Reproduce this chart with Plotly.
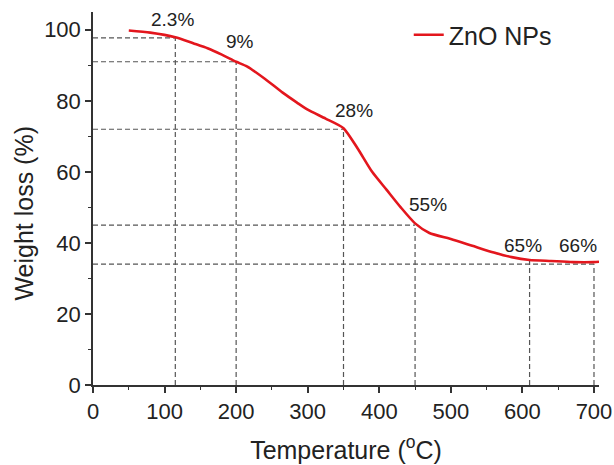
import plotly.graph_objects as go

# TGA curve of ZnO nanoparticles: temperature (°C) vs remaining weight (%)
temperature = [50, 80, 115, 140, 160, 180, 200, 215, 240, 265, 285, 300, 325,
               350, 370, 390, 410, 430, 450, 470, 500, 530, 560, 585, 610, 640,
               670, 700, 707]
weight = [99.8, 99.2, 97.9, 96.2, 94.8, 93.0, 91.0, 89.7, 86.2, 82.3, 79.5,
          77.5, 75.0, 72.3, 66.5, 60.0, 55.0, 50.0, 45.5, 42.8, 41.1, 39.2,
          37.3, 36.0, 35.2, 34.9, 34.6, 34.6, 34.7]

# Marked stages: temperature, cumulative weight loss (%)
stage_temp = [115, 200, 350, 450, 610, 700]
stage_loss = [2.3, 9, 28, 55, 65, 66]
stage_hline = [True, True, True, True, False, True]
# Label placement (data coords)
label_x = [111, 205, 365, 468, 601, 678]
label_y = [102.8, 96.8, 77.2, 50.8, 39.2, 39.2]

FONT = "Liberation Sans, Arial, sans-serif"
AXIS_COLOR = "#333333"
GUIDE = dict(color="#555555", width=1.2, dash="5px,3px")

fig = go.Figure()
fig.add_trace(go.Scatter(
    x=temperature, y=weight, mode="lines", name="ZnO NPs",
    line=dict(color="#e3161d", width=2.6, shape="spline", smoothing=0.6),
))

shapes = []
for t, loss, hl in zip(stage_temp, stage_loss, stage_hline):
    residual = 100 - loss
    shapes.append(dict(type="line", xref="x", yref="y", x0=t, x1=t,
                       y0=0, y1=residual, line=GUIDE, layer="below"))
    if hl:
        shapes.append(dict(type="line", xref="x", yref="y", x0=0, x1=t,
                           y0=residual, y1=residual, line=GUIDE, layer="below"))

annotations = [
    dict(x=lx, y=ly, xref="x", yref="y", text=f"{loss:g}%", showarrow=False,
         xanchor="center", yanchor="middle",
         font=dict(size=19, color="#222222", family=FONT))
    for lx, ly, loss in zip(label_x, label_y, stage_loss)
]
annotations.append(dict(
    x=-0.136, y=0.46, xref="paper", yref="paper", text="Weight loss (%)",
    xanchor="center", yanchor="middle",
    textangle=-90, showarrow=False, font=dict(size=25, color="#222222", family=FONT),
))

axis_common = dict(
    showline=True, linecolor=AXIS_COLOR, linewidth=1.5,
    ticks="outside", ticklen=6, tickwidth=1.5, tickcolor=AXIS_COLOR,
    showgrid=False, zeroline=False, automargin=False,
    tickfont=dict(size=22, color="#222222", family=FONT),
)

fig.update_layout(
    width=614, height=465,
    margin=dict(l=93, r=15, t=12, b=80),
    paper_bgcolor="white", plot_bgcolor="white",
    font=dict(family=FONT, color="#222222"),
    shapes=shapes, annotations=annotations,
    showlegend=True,
    legend=dict(x=0.624, y=1.0, xanchor="left", yanchor="top",
                bgcolor="rgba(0,0,0,0)", font=dict(size=25, family=FONT, color="#222222")),
    xaxis=dict(range=[0, 707], dtick=100, tick0=0,
               minor=dict(ticks="outside", ticklen=3, dtick=50, tickcolor=AXIS_COLOR, tickwidth=1.2),
               title=dict(text="Temperature (<sup>o</sup>C)", standoff=18,
                          font=dict(size=25, color="#222222", family=FONT)),
               **axis_common),
    yaxis=dict(range=[0, 105], dtick=20, tick0=0,
               minor=dict(ticks="outside", ticklen=3, dtick=10, tickcolor=AXIS_COLOR, tickwidth=1.2),
               **axis_common),
)

fig.write_html("out.html")
